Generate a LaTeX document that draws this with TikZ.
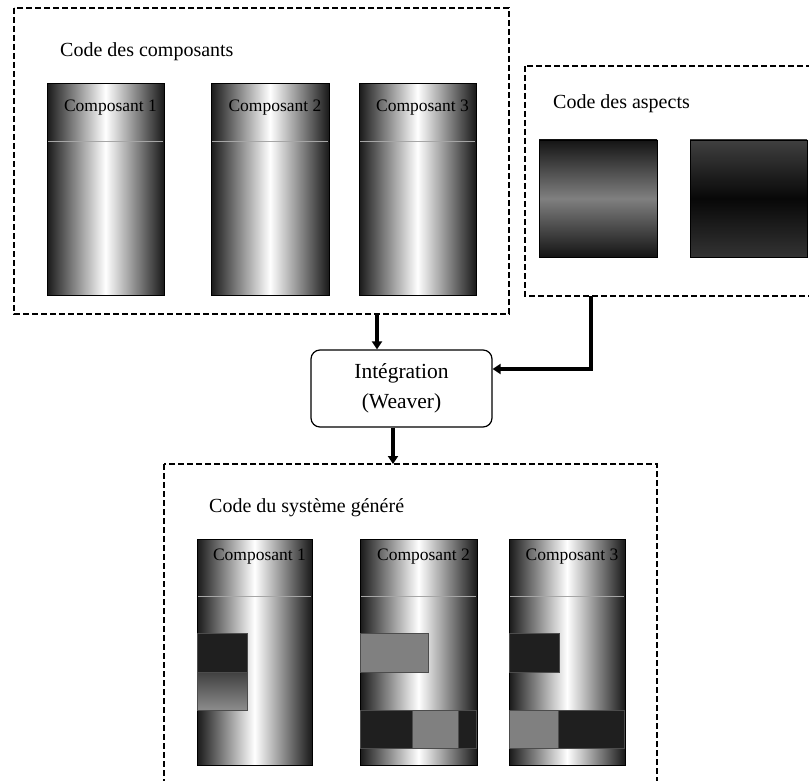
\documentclass[tikz,border=0pt]{standalone}
\usepackage{fontspec}
\setmainfont{Liberation Serif}
\usetikzlibrary{arrows.meta}
\begin{document}
\begin{tikzpicture}[x=1pt,y=-1pt,
  frame/.style={draw=black, line width=1.2pt, dash pattern=on 6pt off 3pt},
  colbody/.style={draw=black, line width=1pt, left color=black!90, right color=black!90, middle color=white},
  divline/.style={draw=black!35, line width=0.8pt},
  title/.style={font=\fontsize{20}{23}\selectfont, anchor=base west, inner sep=0pt},
  clabel/.style={font=\fontsize{17.5}{20}\selectfont, anchor=base, inner sep=0pt},
  darkpart/.style={fill=black!88, draw=black!70, line width=0.5pt},
  graypart/.style={top color=black!75, bottom color=black!45, draw=black!70, line width=0.5pt},
  lightpart/.style={fill=black!50, draw=black!70, line width=0.5pt},
  conn/.style={line width=3.5pt, -{Triangle[length=8pt,width=10pt]}},
  weaver/.style={draw=black, line width=1.2pt, rounded corners=9pt, align=center,
    font=\fontsize{21.5}{30}\selectfont, minimum width=181pt, minimum height=77pt, inner sep=0pt}]
\useasboundingbox (0,0) rectangle (809,781);
\begin{scope}
\clip (0,0) rectangle (809,781);

% ---------- top left frame: components
\draw[frame] (14,8) rectangle (509,314);
\node[title] (tcomp) at (60,57) {Code des composants};
\foreach \xa/\xb/\n in {47/164/1, 211/329/2, 359/476/3}{
  \path[colbody] (\xa,84) rectangle (\xb,295);
  \draw[divline] (\xa+1,141) -- (\xb-1,141);
  \node[clabel] (c\n) at ({(\xa+\xb)/2+5},112) {Composant \n};
}

% ---------- right frame: aspects
\draw[frame] (525,66) rectangle (830,296);
\node[title] (tasp) at (553,109) {Code des aspects};
\path[draw=black, line width=0.9pt, top color=black!92, bottom color=black!92, middle color=black!50] (539,140) rectangle (657,257);
\path[draw=black, line width=0.9pt, top color=black!75, bottom color=black!80, middle color=black!97] (690,140) rectangle (807,257);

% ---------- weaver
\node[weaver] (weav) at (401.5,388.5) {Intégration\\(Weaver)};

% ---------- bottom frame: generated system
\draw[frame] (164,464) rectangle (657,800);
\node[title] (tgen) at (209,512) {Code du système généré};
\foreach \xa/\xb/\n in {197/312/1, 360/477/2, 509/625/3}{
  \path[colbody] (\xa,539) rectangle (\xb,765);
  \draw[divline] (\xa+1,596) -- (\xb-1,596);
  \node[clabel] (g\n) at ({(\xa+\xb)/2+5},560) {Composant \n};
}
% woven aspect parts
\path[darkpart] (197.5,633) rectangle (247,672);
\path[graypart] (197.5,672) rectangle (247,710);
\path[lightpart] (360.5,633) rectangle (428,672);
\path[darkpart] (360.5,710) rectangle (412,748);
\path[lightpart] (412,710) rectangle (458,748);
\path[darkpart] (458,710) rectangle (476.5,748);
\path[lightpart] (509.5,710) rectangle (558,748);
\path[darkpart] (558,710) rectangle (624.5,748);
\path[darkpart] (509.5,633) rectangle (559,672);
\end{scope}

% ---------- connectors
\coordinate (topout) at (377,314);
\coordinate (aspout) at (591,296);
\coordinate (genin) at (393,464);
\draw[conn] (topout) -- (topout |- weav.north);
\draw[conn] (aspout) |- (weav.east |- 0,369);
\draw[conn] (weav.south -| genin) -- (genin);
\end{tikzpicture}
\end{document}
